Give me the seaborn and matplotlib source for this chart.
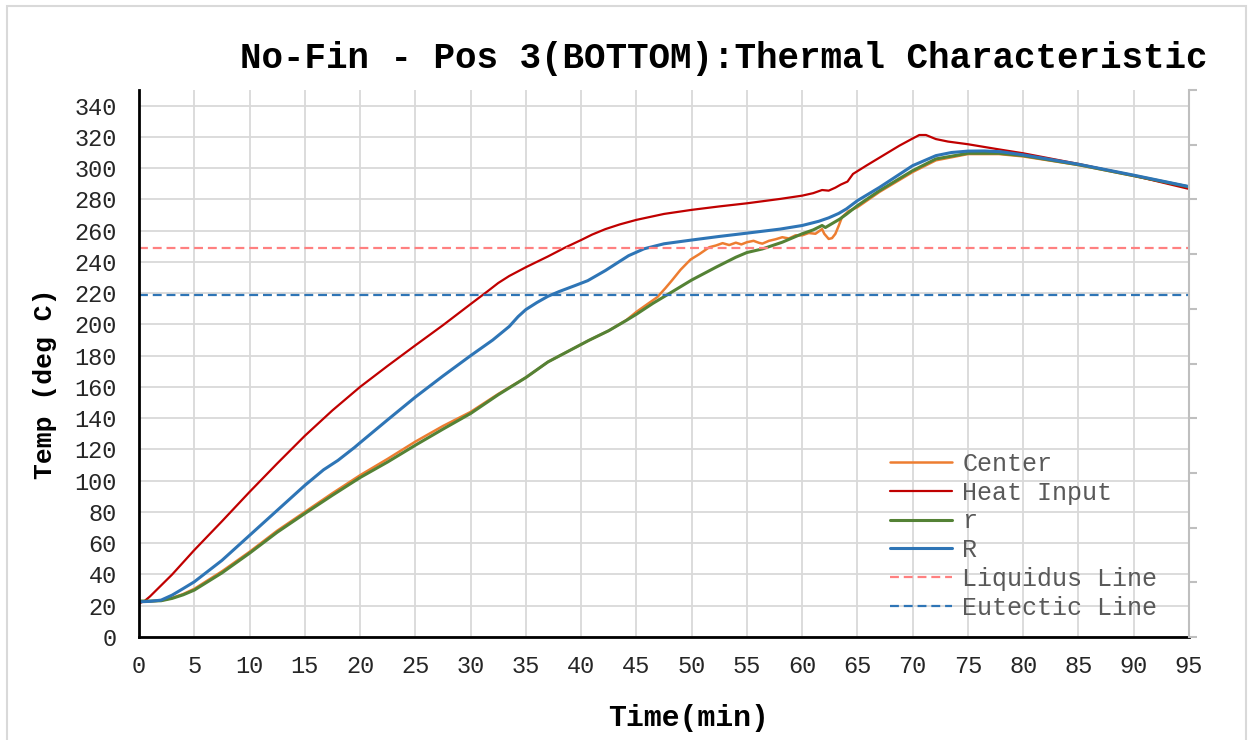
import matplotlib
matplotlib.use("Agg")
import matplotlib.pyplot as plt
import seaborn as sns
import pandas as pd
from matplotlib.patches import Rectangle

# ---------------- data ----------------
t_center = [0, 1, 2, 3, 4, 5, 7.5, 10, 12.5, 15, 17.5, 20, 22.5, 25, 27.5, 30, 32.5, 35, 37, 40.7,
            42.5, 44.1, 45, 46, 46.9, 47.6, 48.2, 49, 49.9, 50.7, 51.6, 52.2, 52.8, 53.4, 54, 54.5,
            55, 55.6, 56.1, 56.4, 57, 57.6, 58.2, 58.8, 59.4, 60, 60.6, 61.2, 61.8, 62.0, 62.4,
            62.7, 63.0, 63.3, 63.6, 64.2, 65, 67, 70, 72.1, 75, 77.8, 80, 85, 90, 95]
center = [22.5, 22.8, 23.3, 25, 27.5, 30.8, 42, 54.5, 68, 80, 92, 103.5, 114, 125, 135, 144, 155.5, 166, 176, 189.8,
          196, 202.8, 208, 213, 217.5, 223, 228, 235, 241.5, 245, 249.4, 250.5, 252, 250.8, 252.3, 251.2,
          252.6, 253.5, 252.2, 251.7, 253.5, 254.5, 255.8, 255, 257, 257, 258.5, 258, 261, 258, 254.7,
          255.2, 257.9, 263, 268.6, 272.5, 275, 284.8, 297.5, 305, 309, 309, 307.5, 302, 295, 287.8]

t_heat = [0, 0.5, 1, 2, 3, 5, 7.5, 10, 12.5, 15, 17.5, 20, 22.5, 25, 27.5, 30, 31.5, 32.5, 33.5, 35,
          37, 38.5, 40, 41, 42.2, 43.5, 45, 47.5, 50, 52.5, 55, 58, 60, 61, 61.8, 62.4, 63, 63.5,
          64.1, 64.6, 65.8, 67.3, 68.8, 69.9, 70.6, 71.2, 72.1, 73.2, 75, 77.8, 80, 85, 90, 95]
heat = [21.5, 23, 26, 33, 40, 55.6, 74, 92.8, 111, 128.7, 145, 160, 173.5, 186.6, 199.5, 213, 221, 226.5, 231, 236.6,
        243.5, 249, 254, 257.5, 261, 264, 266.9, 270.7, 273.3, 275.5, 277.5, 280.3, 282.4, 284, 286, 285.6, 287.5, 289.5,
        291.4, 296.3, 301.6, 308, 314.4, 318.6, 321.2, 321.2, 318.6, 317, 315.3, 312, 309.5, 302.7, 295.2, 286.7]

t_r = [0, 1, 2, 3, 4, 5, 7.5, 10, 12.5, 15, 17.5, 20, 22.5, 25, 27.5, 30, 32.5, 35, 37, 40.7,
       42.5, 44.1, 45, 46.5, 47.8, 50, 52.2, 54, 55, 56.4, 58.2, 60, 61, 61.8, 62.1, 62.7, 63.4, 64,
       65, 67, 70, 72.1, 75, 77.8, 80, 85, 90, 95]
r = [23, 23, 23.2, 24.7, 27, 30, 41, 53.6, 67, 79, 90.7, 102, 112, 122.7, 133, 143, 155, 166, 176, 189.8,
     196, 202.6, 206.5, 213.5, 219, 228.4, 236.6, 243, 246, 248.3, 252.6, 258, 260.5, 263.3, 262, 264.5, 267.4, 270.5,
     276, 285.6, 298.4, 305.9, 309.5, 309.5, 308, 302.2, 295.2, 288]

t_R = [0, 1, 2, 3, 4, 5, 7.5, 10, 12.5, 15, 16.7, 18, 19.5, 20, 22.5, 25, 27.5, 30, 32, 33.5,
       34.3, 35, 36, 37, 38, 39.5, 40.6, 42.2, 43.3, 44.3, 45.7, 47.5, 50, 52.5, 55, 58, 60, 61.5,
       62.4, 63.3, 64, 65, 67, 70, 72.1, 73.5, 75, 76.5, 78, 80, 85, 90, 95]
R = [22.5, 22.8, 23.6, 26.8, 31, 35.3, 49, 65, 81, 97, 107, 113, 121.3, 124.3, 139, 153.5, 167, 180, 190, 198.7,
     205, 209.5, 214, 218, 221, 225, 228, 234.5, 239.5, 244, 248.4, 251.6, 254, 256.3, 258.4, 261, 263.3, 266,
     268.2, 271, 273.9, 279.2, 287.7, 301.6, 308, 310, 310.9, 311, 310.5, 308.5, 302.5, 295.5, 288.2]

liquidus = 249
eutectic = 219

x_ticks = list(range(0, 96, 5))
y_ticks = list(range(0, 341, 20))

# ---------------- figure ----------------
sns.set_theme(style="white")
plt.rcParams["font.family"] = ["Liberation Mono", "DejaVu Sans"]

W, H = 1250, 740
fig = plt.figure(figsize=(W / 100, H / 100), dpi=100)
fig.patch.set_facecolor("white")
ax = fig.add_axes([139 / W, 1 - 637 / H, 1050 / W, 547 / H])

series = [
    ("Center", t_center, center, "#ED7D31", 1.8),
    ("Heat Input", t_heat, heat, "#C00000", 1.6),
    ("r", t_r, r, "#548235", 2.2),
    ("R", t_R, R, "#2E75B6", 2.2),
]
for name, tt, vv, col, lw in series:
    df = pd.DataFrame({"Time": tt, "Temp": vv})
    sns.lineplot(data=df, x="Time", y="Temp", ax=ax, color=col, lw=lw,
                 label=name, estimator=None, sort=False)

ax.axhline(liquidus, color="#FF8080", lw=1.6, ls=(0, (4, 2.2)), label="Liquidus Line")
ax.axhline(eutectic, color="#2E75B6", lw=1.6, ls=(0, (4, 2.2)), label="Eutectic Line")

ax.set_xlim(0, 95)
ax.set_ylim(0, 350)
ax.set_xticks(x_ticks)
ax.set_yticks(y_ticks)
ax.set_xlabel("")
ax.set_ylabel("")
ax.grid(True, color="#D9D9D9", lw=1.3)
ax.set_axisbelow(True)
for s in ["top", "right"]:
    ax.spines[s].set_visible(False)
for s in ["left", "bottom"]:
    ax.spines[s].set_color("black")
    ax.spines[s].set_linewidth(2)
ax.tick_params(axis="y", length=0, pad=16, labelsize=17, labelcolor="#262626")
ax.tick_params(axis="x", length=0, pad=13, labelsize=17, labelcolor="#262626")

# secondary axis (unlabelled ticks on the right)
ax2 = ax.twinx()
ax2.set_ylim(0, 10)
ax2.set_yticks(range(11))
ax2.set_yticklabels([])
ax2.grid(False)
for s in ["top", "left", "bottom"]:
    ax2.spines[s].set_visible(False)
ax2.spines["right"].set_color("#BFBFBF")
ax2.spines["right"].set_linewidth(1.5)
ax2.tick_params(axis="y", length=6, width=1.5, color="#BFBFBF", direction="out")

leg = ax.legend(loc="upper left", bbox_to_anchor=(0.715, 0.3386), frameon=False, fontsize=18,
                handlelength=2.5, handletextpad=0.4, labelspacing=0.19,
                borderaxespad=0, borderpad=0)
for txt in leg.get_texts():
    txt.set_color("#595959")

fig.text(723.5 / W, 1 - 58 / H, "No-Fin - Pos 3(BOTTOM):Thermal Characteristic",
         ha="center", va="center", fontsize=25.8, fontweight="bold", color="black")
fig.text(45 / W, 1 - 384 / H, "Temp (deg C)", rotation=90, ha="center", va="center",
         fontsize=19, fontweight="bold", color="black")
fig.text(688.5 / W, 1 - 718 / H, "Time(min)", ha="center", va="center",
         fontsize=21.5, fontweight="bold", color="black")

fig.patches.append(Rectangle((7 / W, -0.05), (1246 - 7) / W, (H - 6) / H + 0.05,
                             transform=fig.transFigure, fill=False, edgecolor="#D9D9D9", lw=1.5))

fig.savefig("out.png", dpi=100)
